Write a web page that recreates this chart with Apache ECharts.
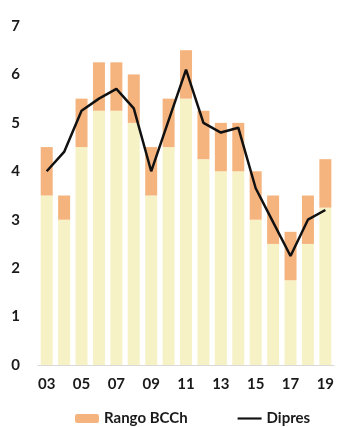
<!DOCTYPE html>
<html>
<head>
<meta charset="utf-8">
<script src="https://cdn.jsdelivr.net/npm/echarts@6/dist/echarts.min.js"></script>
<style>
  html, body { margin: 0; padding: 0; background: #fff; }
  #chart { width: 337px; height: 427px; }
</style>
</head>
<body>
<div id="chart"></div>
<script>
// years 2003-2019
var years = ['03', '04', '05', '06', '07', '08', '09', '10', '11', '12', '13', '14', '15', '16', '17', '18', '19'];
// lower bound of BCCh range (light base)
var rangoBase = [3.5, 3.0, 4.5, 5.25, 5.25, 5.0, 3.5, 4.5, 5.5, 4.25, 4.0, 4.0, 3.0, 2.5, 1.75, 2.5, 3.25];
// width of BCCh range (orange part)
var rangoWidth = [1.0, 0.5, 1.0, 1.0, 1.0, 1.0, 1.0, 1.0, 1.0, 1.0, 1.0, 1.0, 1.0, 1.0, 1.0, 1.0, 1.0];
// Dipres line
var dipres = [4.0, 4.4, 5.25, 5.5, 5.7, 5.3, 4.0, 5.05, 6.1, 5.0, 4.8, 4.9, 3.65, 2.95, 2.25, 3.0, 3.2];

var fontFam = 'Lato, "Open Sans", sans-serif';

var chart = echarts.init(document.getElementById('chart'));
var option = {
  backgroundColor: '#fff',
  animation: false,
  grid: {
    left: 38,
    right: 1,
    top: 26,
    bottom: 62
  },
  legend: {
    left: 70,
    top: 406,
    itemWidth: 24,
    itemHeight: 9,
    itemGap: 50,
    textStyle: {
      color: '#1a1a1a',
      fontSize: 15,
      fontWeight: 'bold',
      fontFamily: fontFam
    },
    data: [
      { name: 'Rango BCCh' },
      { name: 'Dipres', icon: 'path://M0,0 L28,0 L28,2.5 L0,2.5 Z', itemStyle: { color: '#111' } }
    ]
  },
  xAxis: {
    type: 'category',
    data: years,
    axisLine: { lineStyle: { color: '#d9d9d9' } },
    axisTick: { interval: 1, lineStyle: { color: '#d9d9d9' } },
    axisLabel: {
      interval: 1,
      margin: 12,
      color: '#1a1a1a',
      fontSize: 15,
      fontWeight: 'bold',
      fontFamily: fontFam
    }
  },
  yAxis: {
    type: 'value',
    min: 0,
    max: 7,
    interval: 1,
    splitLine: { show: false },
    axisLine: { show: false },
    axisTick: { show: false },
    axisLabel: {
      margin: 18,
      color: '#1a1a1a',
      fontSize: 15,
      fontWeight: 'bold',
      fontFamily: fontFam
    }
  },
  series: [
    {
      name: 'base',
      type: 'bar',
      stack: 'rango',
      barWidth: 12,
      itemStyle: { color: '#f6f2c6' },
      data: rangoBase
    },
    {
      name: 'Rango BCCh',
      type: 'bar',
      stack: 'rango',
      barWidth: 12,
      itemStyle: { color: '#f5b47e' },
      data: rangoWidth
    },
    {
      name: 'Dipres',
      type: 'line',
      symbol: 'none',
      lineStyle: { color: '#111', width: 2.5 },
      itemStyle: { color: '#111' },
      z: 5,
      data: dipres
    }
  ]
};
chart.setOption(option);
</script>
</body>
</html>
